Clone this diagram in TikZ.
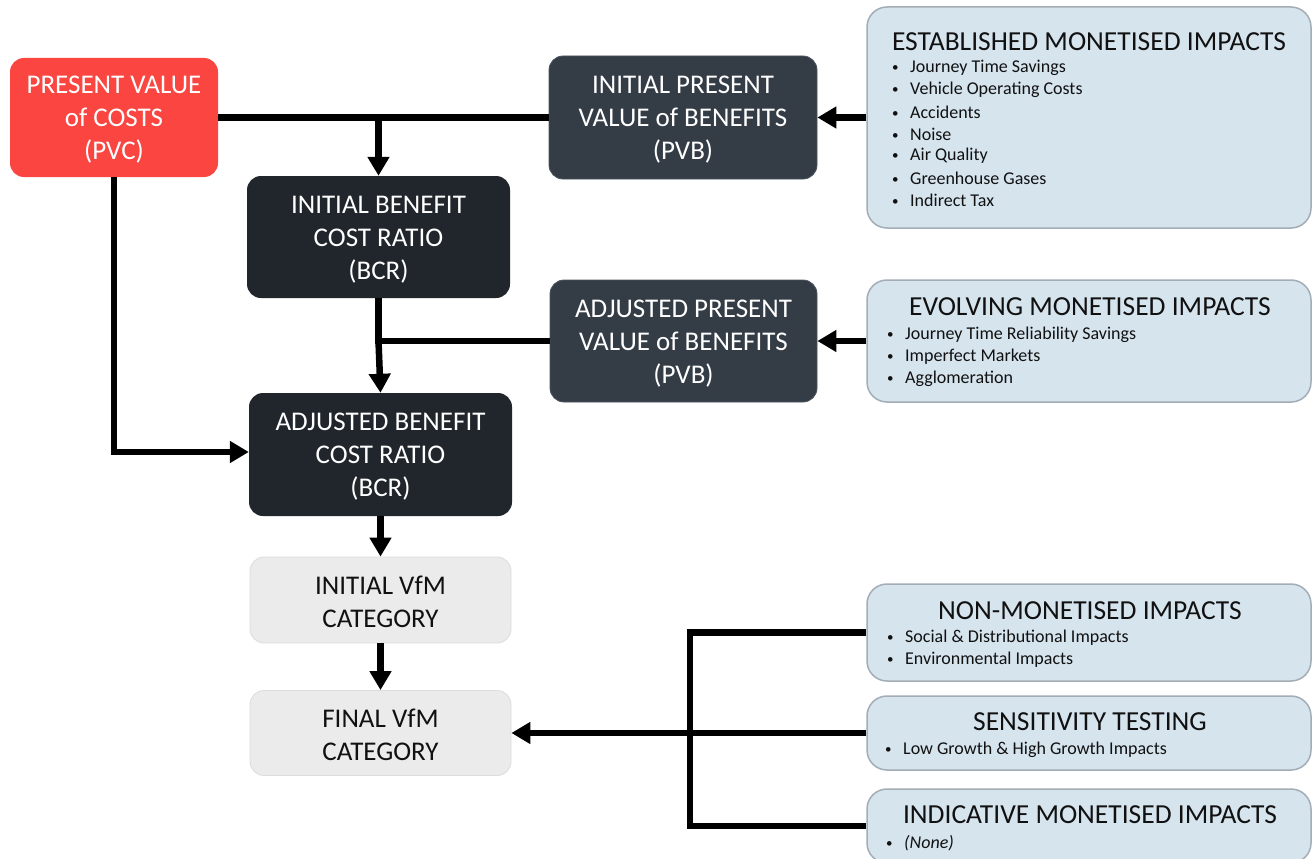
\documentclass[tikz,border=0pt]{standalone}
\usepackage{fontspec}
\setmainfont{Carlito}
\usetikzlibrary{arrows.meta}

\definecolor{costred}{HTML}{FA4540}
\definecolor{slate}{HTML}{343C46}
\definecolor{slateedge}{HTML}{4C555F}
\definecolor{ink}{HTML}{21262C}
\definecolor{infoblue}{HTML}{D6E4EE}
\definecolor{infoedge}{HTML}{A3ADB6}
\definecolor{paleg}{HTML}{EBEBEB}
\definecolor{paleedge}{HTML}{DCDCDC}
\definecolor{txt}{HTML}{111111}

\tikzset{
  box/.style={rounded corners=14pt, inner sep=0pt, align=center,
    font=\fontsize{27}{33}\selectfont},
  redbox/.style={box, fill=costred, text=white},
  slatebox/.style={box, fill=slate, draw=slateedge, line width=0.8pt, text=white},
  inkbox/.style={box, fill=ink, text=white},
  palebox/.style={box, fill=paleg, draw=paleedge, line width=0.8pt, text=txt},
  info/.style={rounded corners=20pt, fill=infoblue, draw=infoedge, line width=1.5pt, inner sep=0pt},
  infotitle/.style={inner sep=0pt, text=txt, font=\fontsize{27.5}{30}\selectfont},
  item/.style={inner sep=0pt, anchor=west, text=txt, font=\fontsize{18}{22}\selectfont},
  link/.style={line width=6.5pt},
  arr/.style={link, -{Triangle[length=19pt,width=21pt]}}
}
% bulleted line: small dot, then the text at a fixed indent
\newcommand\bul[1]{\makebox[19pt][l]{\hspace{1pt}{\fontsize{13}{13}\selectfont\raisebox{1pt}{\textbullet}}}#1}

\begin{document}
\begin{tikzpicture}[x=1pt,y=-1pt]
\clip (0,0) rectangle (1314,859);
\fill[white] (0,0) rectangle (1314,859);

% main flow boxes
\node[redbox, minimum width=208pt, minimum height=119pt] (pvc) at (114,117.5)
  {\rule{0pt}{22pt}PRESENT VALUE\\of COSTS\\(PVC)};
\node[slatebox, minimum width=268pt, minimum height=123pt] (ipvb) at (683,117.5)
  {\rule{0pt}{22pt}INITIAL PRESENT\\VALUE of BENEFITS\\(PVB)};
\node[inkbox, minimum width=263pt, minimum height=122pt] (ibcr) at (378.5,237)
  {\rule{0pt}{22pt}INITIAL BENEFIT\\COST RATIO\\(BCR)};
\node[slatebox, minimum width=267pt, minimum height=122pt] (apvb) at (683.5,341)
  {\rule{0pt}{22pt}ADJUSTED PRESENT\\VALUE of BENEFITS\\(PVB)};
\node[inkbox, minimum width=263pt, minimum height=123pt] (abcr) at (380.5,454.5)
  {\rule{0pt}{22pt}ADJUSTED BENEFIT\\COST RATIO\\(BCR)};
\node[palebox, minimum width=261pt, minimum height=86pt] (ivfm) at (380.5,600)
  {\rule{0pt}{22pt}INITIAL VfM\\CATEGORY};
\node[palebox, minimum width=261pt, minimum height=85pt] (fvfm) at (380.5,733)
  {\rule{0pt}{22pt}FINAL VfM\\CATEGORY};

% impact boxes
\node[info, minimum width=444pt, minimum height=221pt] (est) at (1089,117.5) {};
\node[infotitle] (est-t) at (1089,42) {ESTABLISHED MONETISED IMPACTS};
\foreach \t [count=\i] in {Journey Time Savings, Vehicle Operating Costs, Accidents,
    Noise, Air Quality, Greenhouse Gases, Indirect Tax}
  \node[item] (est-\i) at (891,46+22*\i) {\bul{\t}};

\node[info, minimum width=444pt, minimum height=122pt] (evo) at (1089,341) {};
\node[infotitle] (evo-t) at (1090,307) {EVOLVING MONETISED IMPACTS};
\foreach \t [count=\i] in {Journey Time Reliability Savings, Imperfect Markets, Agglomeration}
  \node[item] (evo-\i) at (886,313+22*\i) {\bul{\t}};

\node[info, minimum width=444pt, minimum height=97pt] (nonm) at (1089,632.5) {};
\node[infotitle] (nonm-t) at (1090,611) {NON-MONETISED IMPACTS};
\foreach \t [count=\i] in {Social \& Distributional Impacts, Environmental Impacts}
  \node[item] (nonm-\i) at (886,616+22*\i) {\bul{\t}};

\node[info, minimum width=444pt, minimum height=74pt] (sens) at (1089,733) {};
\node[infotitle] (sens-t) at (1090,722) {SENSITIVITY TESTING};
\node[item] (sens-1) at (884,750) {\bul{Low Growth \& High Growth Impacts}};

\node[info, minimum width=444pt, minimum height=74pt] (ind) at (1089,826) {};
\node[infotitle] (ind-t) at (1090,815) {INDICATIVE MONETISED IMPACTS};
\node[item] (ind-1) at (885,843) {\bul{\textit{(None)}}};

% connectors
\coordinate (j1) at (ibcr.north |- pvc.east);
\coordinate (j2) at (ibcr.south |- apvb.west);
\coordinate (rail) at (690,0);

\draw[link] (pvc.east) -- (ipvb.west);
\draw[arr] (j1) -- (ibcr.north);
\draw[arr] (est.west) -- (ipvb.east);

\draw[link] (ibcr.south) -- (j2);
\draw[link] (apvb.west) -- ([xshift=-3.25pt]j2);
\draw[arr] (j2) -- (abcr.north);
\draw[arr] (evo.west) -- (apvb.east);

\draw[arr] (pvc.south) -- ([yshift=2.5pt]pvc.south |- abcr.west) -- ([yshift=2.5pt]abcr.west);

\draw[arr] (abcr.south) -- (ivfm.north);
\draw[arr] (ivfm.south) -- (fvfm.north);

\draw[link] (nonm.west) -- (nonm.west -| rail) -- (ind.west -| rail) -- (ind.west);
\draw[arr] (sens.west) -- (fvfm.east);
\end{tikzpicture}
\end{document}
